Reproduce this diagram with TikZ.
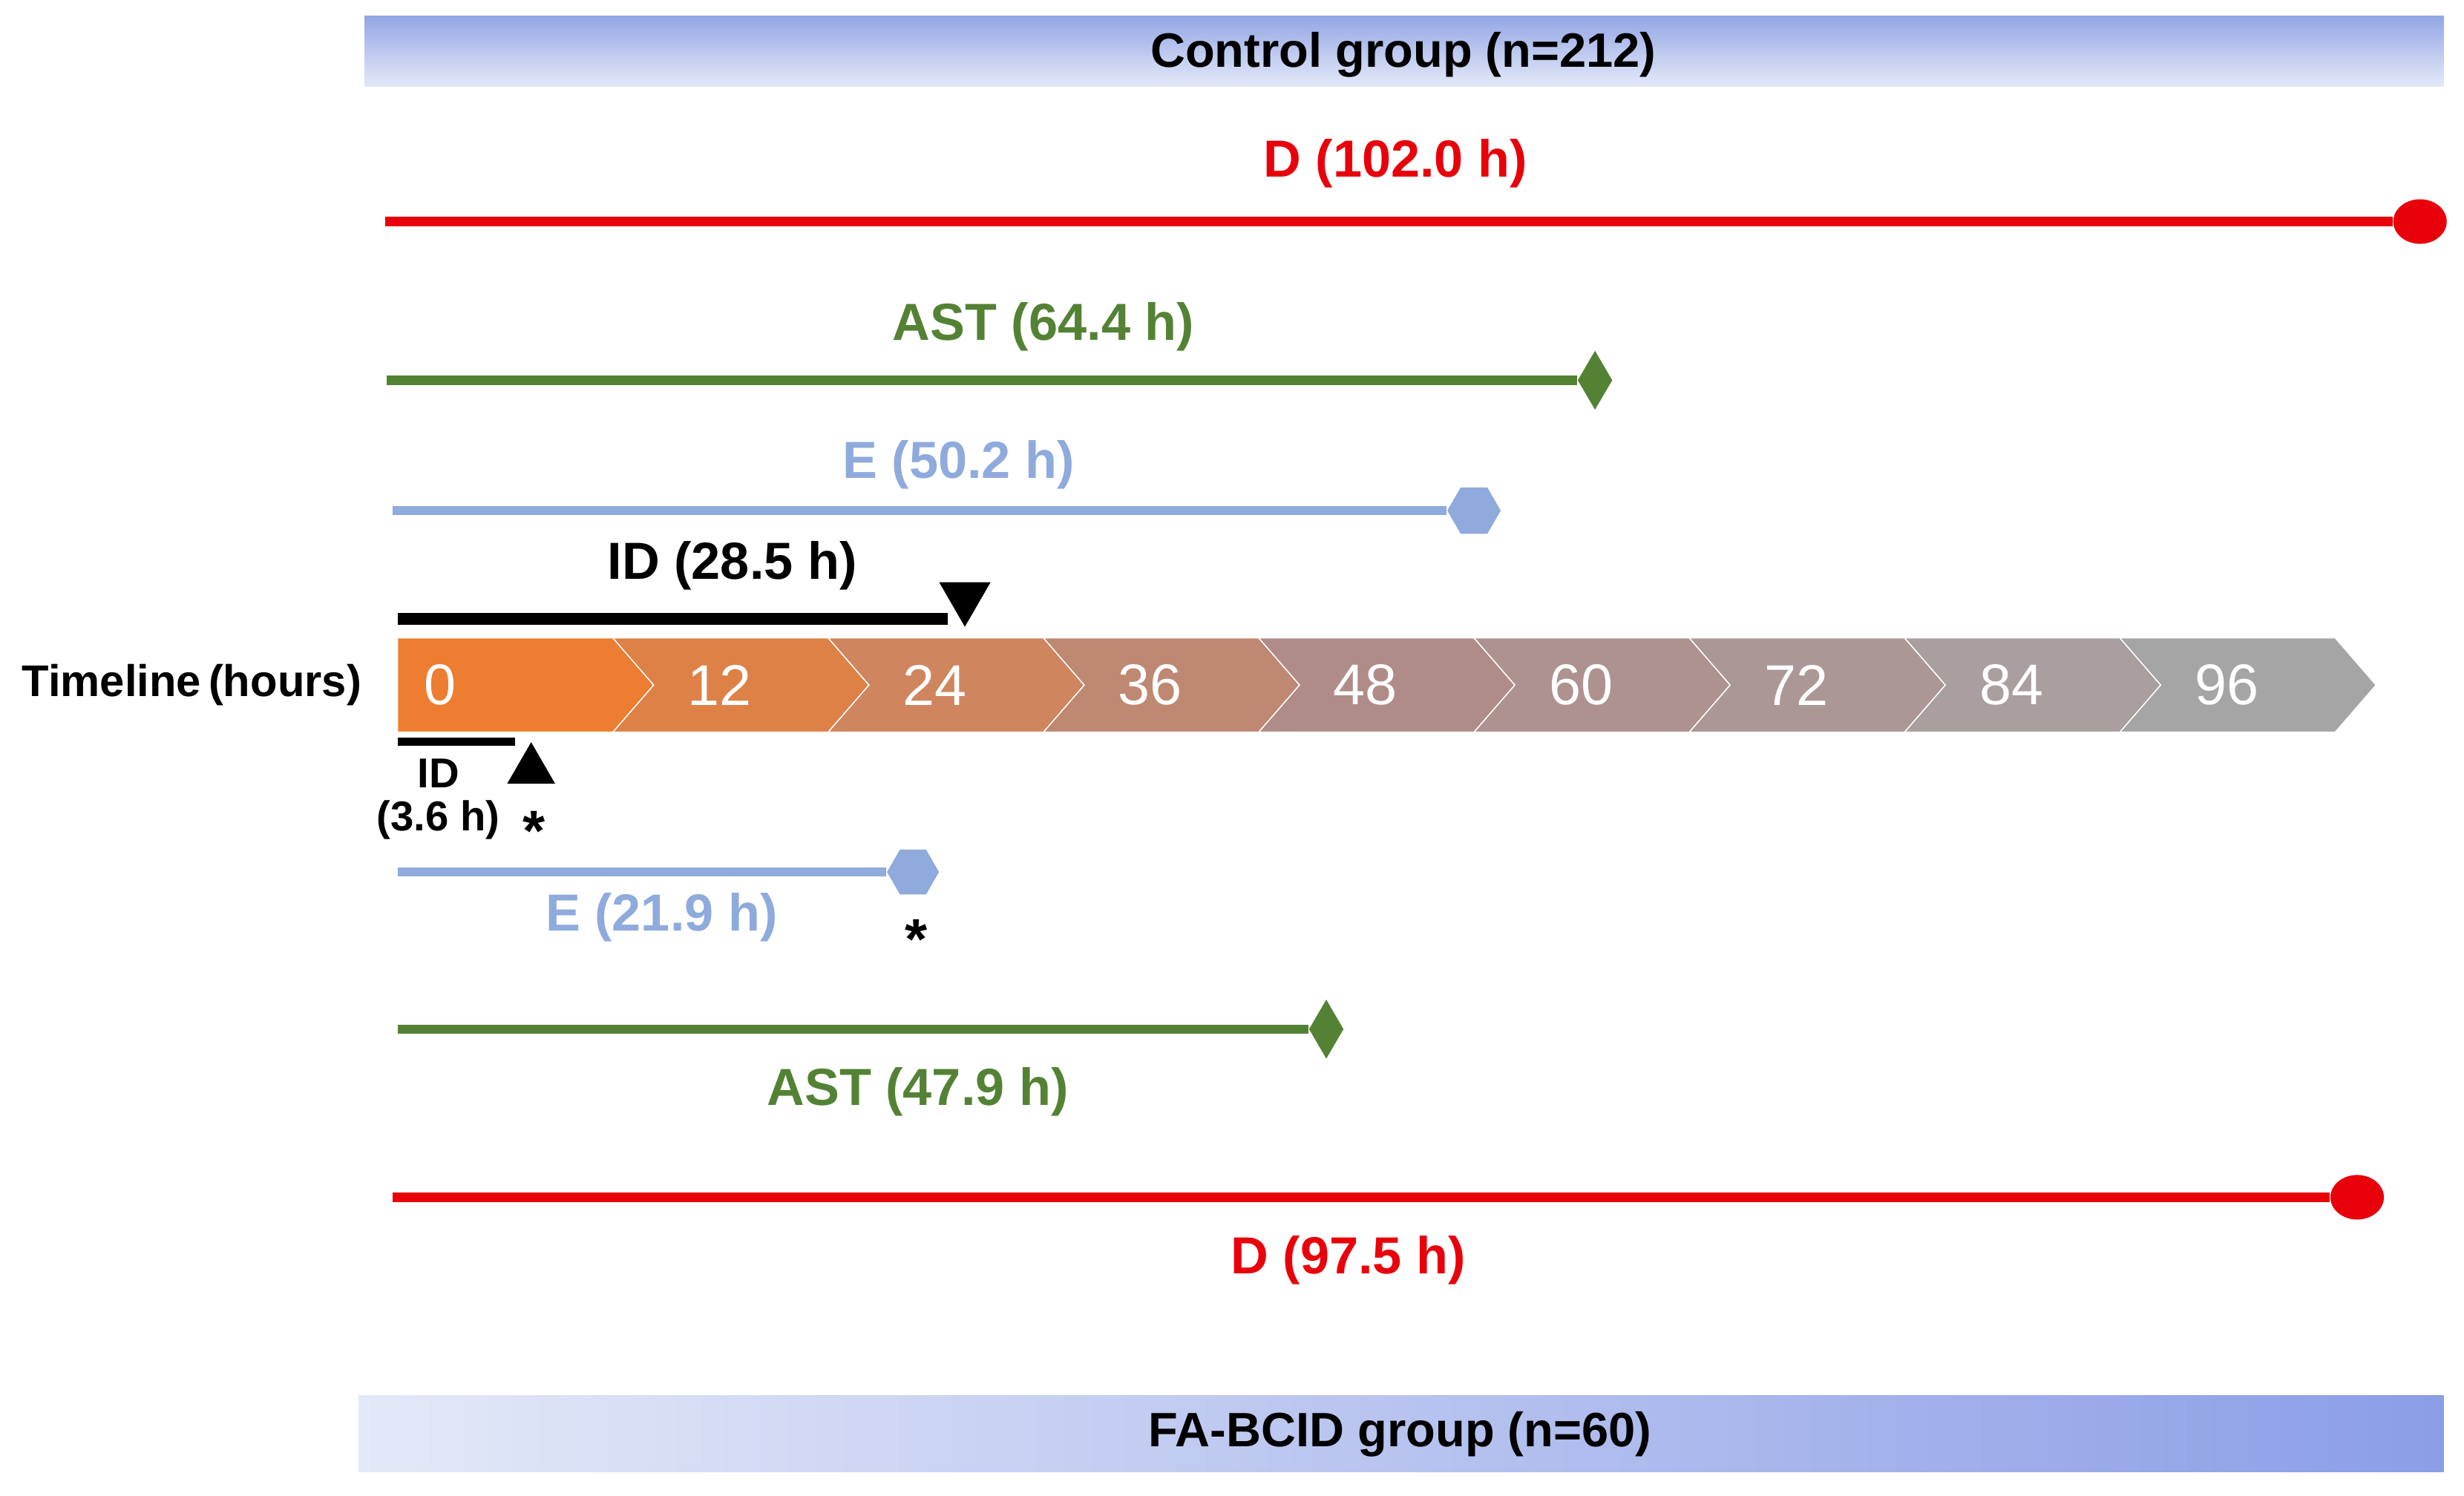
\documentclass[tikz,border=0pt]{standalone}
\usepackage{fontspec}
\setmainfont{Liberation Sans}
\usetikzlibrary{shapes.geometric}
\definecolor{dred}{HTML}{E8000B}
\definecolor{dgreen}{HTML}{548235}
\definecolor{lblue}{HTML}{8FAADC}
\definecolor{torange}{HTML}{ED7D31}
\definecolor{tgray}{HTML}{A5A5A5}
\definecolor{trose}{HTML}{B08C88}
\definecolor{bandlight}{HTML}{E4E9F8}
\definecolor{banddark}{HTML}{93A6E5}
\tikzset{
  lbl/.style={font=\bfseries\fontsize{20}{24}\selectfont},
  small/.style={font=\bfseries\fontsize{16}{19}\selectfont},
  star/.style={font=\bfseries\fontsize{22}{24}\selectfont},
  bar/.style={line width=3.6pt},
  dot/.style={ellipse, fill=dred, minimum width=0.72cm, minimum height=0.6cm, inner sep=0pt},
  gem/.style={diamond, fill=dgreen, minimum width=0.47cm, minimum height=0.8cm, inner sep=0pt, aspect=0.6},
  hexa/.style={regular polygon, regular polygon sides=6, fill=lblue, minimum size=0.72cm, inner sep=0pt},
  tick/.style={text=white, font=\fontsize{22}{26}\selectfont}
}
\begin{document}
\begin{tikzpicture}[x=0.02117cm, y=-0.02117cm]
		\useasboundingbox (0,0) rectangle (1568,952);
		% the two group bands
		\shade[top color=banddark, bottom color=bandlight] (232,10) rectangle (1555,55);
		\node[lbl, font=\bfseries\fontsize{18.5}{22}\selectfont] (ctrl) at (893,35) {Control group (n=212)};
		\shade[left color=bandlight, right color=banddark!95!blue] (228,888) rectangle (1555,937);
		\node[lbl, font=\bfseries\fontsize{18.5}{22}\selectfont] (fab) at (891,913) {FA-BCID group (n=60)};

		% the timeline chevrons
		\foreach \i/\t in {0/0,1/12,2/24,3/36,4/48,5/60,6/72,7/84,8/96}{
			\pgfmathsetmacro{\pc}{100-12.5*\i}
			\pgfmathsetmacro{\xa}{253+137*\i}
			\pgfmathsetmacro{\xb}{253+137*(\i+1)}
			\ifnum\i=0
				\fill[torange, draw=white, line width=0.4pt] (\xa,406) -- (\xb,406) -- (\xb+26,436) -- (\xb,466) -- (\xa,466) -- cycle;
			\else
				\ifnum\i<5
					\pgfmathsetmacro{\pc}{100-25*\i}
					\fill[torange!\pc!trose, draw=white, line width=0.4pt] (\xa,406) -- (\xb,406) -- (\xb+26,436) -- (\xb,466) -- (\xa,466) -- (\xa+26,436) -- cycle;
				\else
					\pgfmathsetmacro{\pc}{100-25*(\i-4)}
					\fill[trose!\pc!tgray, draw=white, line width=0.4pt] (\xa,406) -- (\xb,406) -- (\xb+26,436) -- (\xb,466) -- (\xa,466) -- (\xa+26,436) -- cycle;
				\fi
			\fi
			\node[tick] (t\i) at (\xa+27+\ifnum\i=0 0\else 178-137\fi,436) {\t};
		}
		\node[font=\bfseries\fontsize{17}{20}\selectfont] (tl) at (122,436) {Timeline\,(hours)};

		% control group
		\node[lbl, text=dred] (dlbl) at (888,104) {D (102.0 h)};
		\coordinate (d0) at (245,141);
		\node[dot] (dend) at (1540,141) {};
		\draw[bar, dred] (d0) -- (dend.west);

		\node[lbl, text=dgreen] (albl) at (664,208) {AST (64.4 h)};
		\coordinate (a0) at (246,242);
		\node[gem] (aend) at (1015,242) {};
		\draw[bar, dgreen] (a0) -- (aend.west);

		\node[lbl, text=lblue] (elbl) at (610,296) {E (50.2 h)};
		\coordinate (e0) at (250,325);
		\node[hexa] (eend) at (938,325) {};
		\draw[bar, lblue] (e0) -- (eend.west);

		\node[lbl] (ilbl) at (466,360) {ID (28.5 h)};
		\coordinate (i0) at (253,394);
		\node[isosceles triangle, isosceles triangle apex angle=60, shape border rotate=-90, fill=black, minimum height=0.6cm, inner sep=0pt] (iend) at (614,380) {};
		\draw[line width=4.4pt] (i0) -- (603,394);

		% FA-BCID group
		\coordinate (j0) at (253,472);
		\coordinate (j1) at (328,472);
		\draw[line width=3.2pt] (j0) -- (j1);
		\node[isosceles triangle, isosceles triangle apex angle=60, shape border rotate=90, fill=black, minimum height=0.56cm, inner sep=0pt] (jend) at (338,490) {};
		\node[small] (jlbl) at (279,492) {ID};
		\node[small] (jlbl2) at (279,522) {(3.6 h)};
		\node[star] (js) at (340,529) {*};

		\coordinate (f0) at (253,555);
		\node[hexa, minimum size=0.7cm] (fend) at (581,555) {};
		\draw[bar, lblue] (f0) -- (fend.west);
		\node[lbl, text=lblue] (flbl) at (421,584) {E (21.9 h)};
		\node[star] (fs) at (583,598) {*};

		\coordinate (g0) at (253,655);
		\node[gem] (gend) at (844,655) {};
		\draw[bar, dgreen] (g0) -- (gend.west);
		\node[lbl, text=dgreen] (glbl) at (584,695) {AST (47.9 h)};

		\coordinate (h0) at (250,762);
		\node[dot] (hend) at (1500,762) {};
		\draw[bar, dred] (h0) -- (hend.west);
		\node[lbl, text=dred] (hlbl) at (858,802) {D (97.5 h)};
\end{tikzpicture}
\end{document}
